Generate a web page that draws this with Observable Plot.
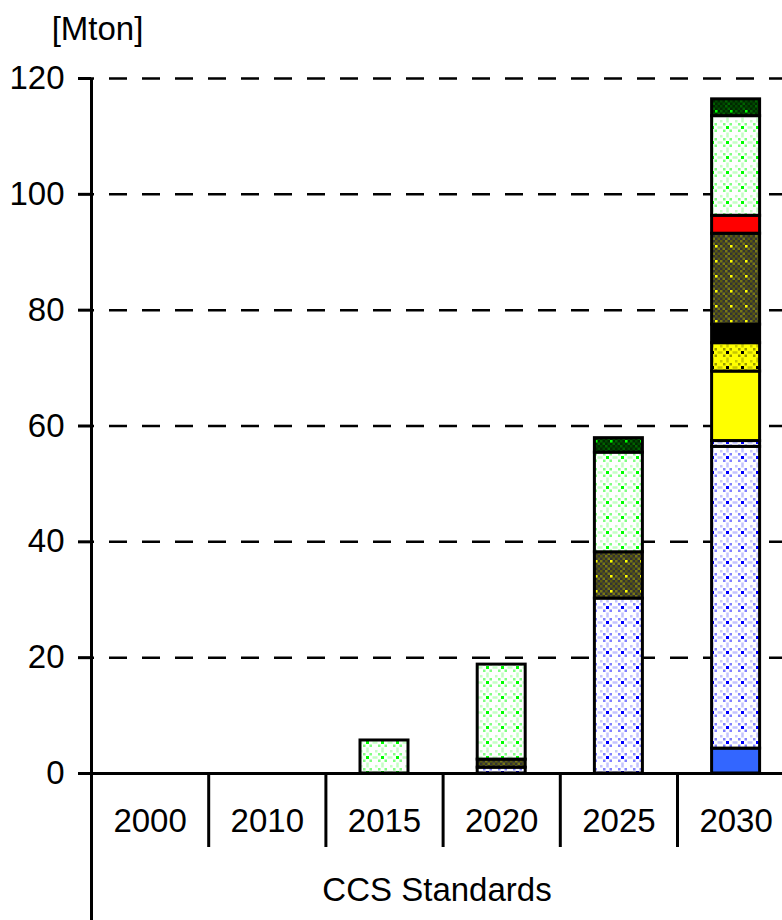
<!DOCTYPE html>
<html><head><meta charset="utf-8">
<script src="https://cdn.jsdelivr.net/npm/d3@7"></script>
<script src="https://cdn.jsdelivr.net/npm/@observablehq/plot@0.6"></script>
<style>body{margin:0;background:#fff}</style>
</head><body><div id="chart"></div>
<script>
// ---- data ----
const years = ["2000", "2010", "2015", "2020", "2025", "2030"];
const yTicks = [0, 20, 40, 60, 80, 100, 120];
const seriesNames = ["S1", "S2", "S3", "S4", "S5", "S6", "S7", "S8", "S9", "S10"];
const s1  = [0, 0, 0,   0,    0,    4.3];
const s2  = [0, 0, 0,   1.0,  30.2, 52.1];
const s3  = [0, 0, 0,   0,    0,    1.0];
const s4  = [0, 0, 0,   0,    0,    12.0];
const s5  = [0, 0, 0,   0,    0,    4.9];
const s6  = [0, 0, 0,   0,    0,    3.2];
const s7  = [0, 0, 0,   1.4,  8.0,  15.7];
const s8  = [0, 0, 0,   0,    0,    3.1];
const s9  = [0, 0, 5.7, 16.4, 17.2, 17.2];
const s10 = [0, 0, 0,   0,    2.5,  2.9];
const seriesValues = [s1, s2, s3, s4, s5, s6, s7, s8, s9, s10];

// ---- styles ----
const fills = ["#3366ff", "url(#pBlue)", "url(#pBlue)", "#ffff00", "url(#pYellow)", "#000000",
               "url(#pOlive)", "#ff0000", "url(#pGreen)", "url(#pDkGreen)"];

const rows = [];
seriesValues.forEach((vals, k) => vals.forEach((v, i) => {
  if (v > 0) rows.push({series: seriesNames[k], i, i2: i + 1, value: v});
}));

const step = 117.2;
const chart = Plot.plot({
  width: 782, height: 920,
  marginTop: 78, marginBottom: 147, marginLeft: 91, marginRight: 0,
  style: {fontFamily: "'Liberation Sans', Arial, sans-serif", fontSize: "33px", color: "#000", background: "#fff", overflow: "visible"},
  x: {type: "linear", domain: [0, years.length], range: [91, 91 + step * years.length], axis: null},
  y: {domain: [0, 120], axis: null},
  color: {type: "ordinal", domain: seriesNames, range: fills},
  marks: [
    Plot.ruleY(yTicks.filter(t => t > 0), {stroke: "#000", strokeWidth: 2.5, strokeDasharray: "18,15", strokeDashoffset: 15}),
    Plot.rectY(rows, Plot.stackY({x1: "i", x2: "i2", y: "value", fill: "series", order: null,
      stroke: "#000", strokeWidth: 3, insetLeft: 34.6, insetRight: 34.6})),
    Plot.ruleY([0], {stroke: "#000", strokeWidth: 3, insetLeft: -12}),
    Plot.ruleX([0], {stroke: "#000", strokeWidth: 3, insetBottom: -147}),
    Plot.ruleX(d3.range(1, years.length), {y1: 0, y2: 0, stroke: "#000", strokeWidth: 3, insetBottom: -74}),
    Plot.axisY({ticks: yTicks, label: null, tickSize: 13, tickPadding: 14, strokeWidth: 3, fontSize: 33, tickFormat: d => String(d)}),
    Plot.axisX({ticks: years.map((_, i) => i + 0.5), label: null, tickSize: 0, tickPadding: 35, fontSize: 33,
      tickFormat: d => years[Math.round(d - 0.5)]}),
    Plot.text(["CCS Standards"], {frameAnchor: "bottom", lineAnchor: "middle", dy: 117, fontSize: 33}),
    Plot.text(["[Mton]"], {frameAnchor: "top-left", textAnchor: "middle", lineAnchor: "middle", dx: 6, dy: -49, fontSize: 33})
  ]
});

const ns = "http://www.w3.org/2000/svg";
const defs = document.createElementNS(ns, "defs");
function dotPattern(id, bg, L, M, D) {
  return `<pattern id="${id}" patternUnits="userSpaceOnUse" width="15" height="15">
    <rect width="15" height="15" fill="${bg}"/>
    <rect x="6" y="6" width="3" height="3" fill="${D}"/>
    <rect x="3" y="3" width="2.5" height="2.5" fill="${M}"/>
    <rect x="9.5" y="3" width="2.5" height="2.5" fill="${M}"/>
    <rect x="3" y="9.5" width="2.5" height="2.5" fill="${M}"/>
    <rect x="9.5" y="9.5" width="2.5" height="2.5" fill="${M}"/>
    <rect x="6.25" y="0" width="2.5" height="2.5" fill="${L}"/>
    <rect x="0" y="6.25" width="2.5" height="2.5" fill="${L}"/>
    <rect x="12.5" y="6.25" width="2.5" height="2.5" fill="${L}"/>
    <rect x="6.25" y="12.5" width="2.5" height="2.5" fill="${L}"/>
    <rect x="0" y="0" width="2.5" height="2.5" fill="${L}"/>
  </pattern>`;
}
function densePattern(id, bg, A, B, C) {
  let s = `<pattern id="${id}" patternUnits="userSpaceOnUse" width="15" height="15"><rect width="15" height="15" fill="${bg}"/>`;
  for (let r = 0; r < 6; r++) for (let c = 0; c < 6; c++) {
    if ((r + c) % 2 === 0) s += `<rect x="${c * 2.5}" y="${r * 2.5}" width="2.5" height="2.5" fill="${(r * 3 + c) % 4 === 0 ? B : A}"/>`;
  }
  s += `<rect x="10" y="5" width="2.5" height="2.5" fill="${C}"/></pattern>`;
  return s;
}
defs.innerHTML =
  dotPattern("pBlue", "#ffffff", "#c4c4ff", "#8080ff", "#0000ff") +
  dotPattern("pGreen", "#ffffff", "#c4ffc4", "#80ff80", "#00ff00") +
  dotPattern("pYellow", "#ffff00", "#c8c800", "#999900", "#000000") +
  densePattern("pOlive", "#333333", "#7a7a14", "#5c5c10", "#ffff00") +
  densePattern("pDkGreen", "#002800", "#006400", "#004a00", "#00ff00");
chart.insertBefore(defs, chart.firstChild);
document.getElementById("chart").appendChild(chart);
</script>
</body></html>
